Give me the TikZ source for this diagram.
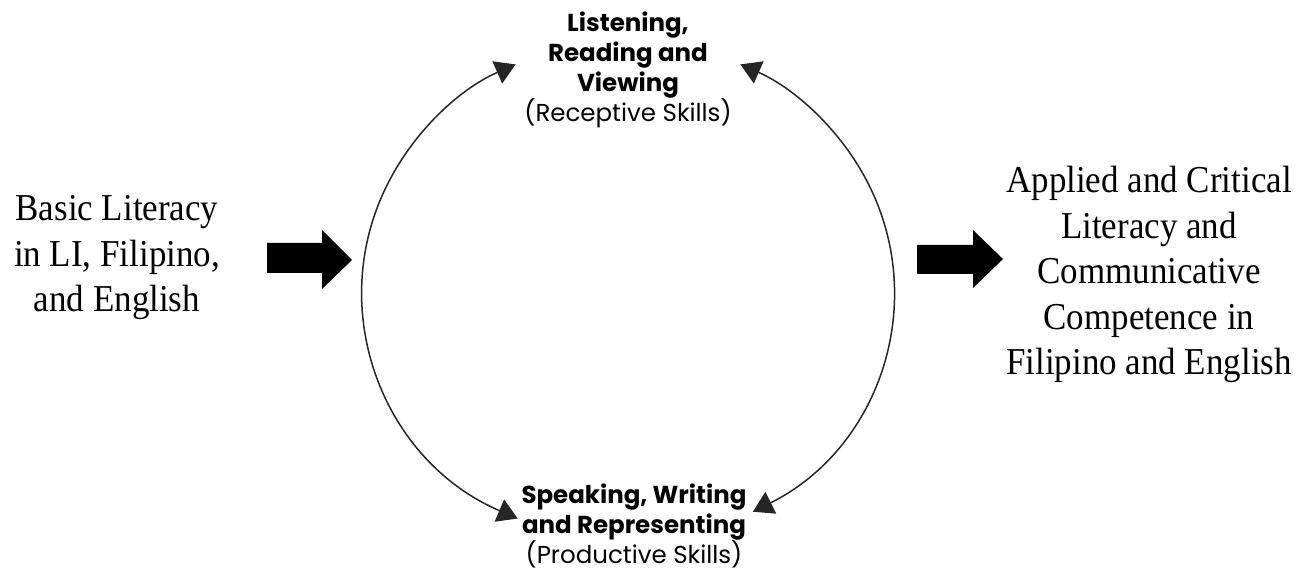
\documentclass[tikz,border=0pt]{standalone}
\usepackage{fontspec}
\newfontfamily\serifA[FakeStretch=0.92]{Liberation Serif}
\newfontfamily\gothic{Poppins}
\usetikzlibrary{arrows.meta}
\begin{document}
\begin{tikzpicture}[x=1pt,y=1pt,
  lbl/.style={align=center, inner sep=0pt, font=\serifA\fontsize{38}{45.5}\selectfont},
  skill/.style={align=center, inner sep=0pt, font=\gothic\fontsize{24.5}{30}\selectfont},
  cyc/.style={line width=1.5pt, black!85, {Triangle[length=20pt,width=24pt]}-{Triangle[length=20pt,width=24pt]}},
  block/.style={fill=black}]
\useasboundingbox (0,0) rectangle (1301,572);
\node[lbl] (basic) at (117,314) {Basic Literacy\\in LI, Filipino,\\and English};
\node[lbl] (applied) at (1149,297.5) {Applied and Critical\\Literacy and\\Communicative\\Competence in\\Filipino and English};
\node[skill] (rec) at (628,502) {\textbf{Listening,}\\\textbf{Reading and}\\\textbf{Viewing}\\(Receptive Skills)};
\node[skill] (prod) at (634,46.5) {\textbf{Speaking, Writing}\\\textbf{and Representing}\\(Productive Skills)};
\coordinate (ctr) at (628,281);
\coordinate (lb) at ({628+266*cos(245.5)},{281+250*sin(245.5)});
\draw[cyc] (lb) arc[start angle=245.5, end angle=115, x radius=266, y radius=250];
\coordinate (rb) at ({628+266*cos(-62)},{281+250*sin(-62)});
\draw[cyc] (rb) arc[start angle=-62, end angle=65, x radius=266, y radius=250];
\fill[block] (267,329) -- (322,329) -- (322,342) -- (352,312) -- (322,283) -- (322,299) -- (267,299) -- cycle;
\fill[block] (917,327) -- (973,327) -- (973,342) -- (1003,313) -- (973,284) -- (973,298) -- (917,298) -- cycle;
\end{tikzpicture}
\end{document}
